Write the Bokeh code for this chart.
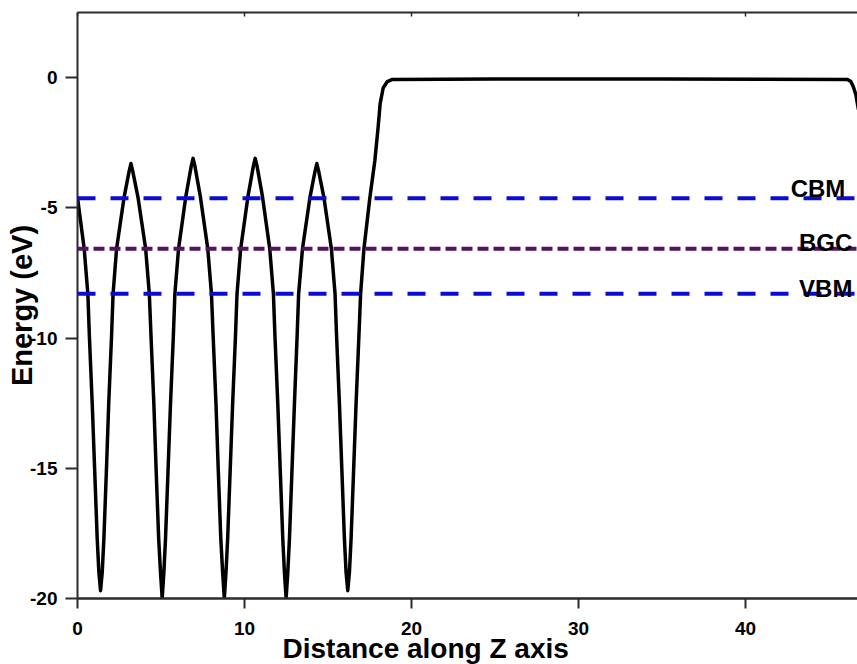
from bokeh.plotting import figure
from bokeh.models import Range1d, FixedTicker, LinearAxis, Span, Label, Title, CustomJSTickFormatter
from bokeh.embed import file_html
from bokeh.resources import INLINE

# ---- data ----
distance = [
    0.00, 0.40, 0.62, 0.71, 0.88, 1.03, 1.18, 1.28, 1.38,
    1.48, 1.58, 1.73, 1.87, 2.04, 2.13, 2.34, 2.78, 3.09, 3.20,
    3.31, 3.63, 4.08, 4.30, 4.40, 4.57, 4.71, 4.86, 4.97, 5.07,
    5.17, 5.27, 5.42, 5.57, 5.74, 5.83, 6.05, 6.49, 6.81, 6.92,
    7.03, 7.35, 7.80, 8.02, 8.12, 8.29, 8.43, 8.58, 8.69, 8.79,
    8.89, 8.99, 9.14, 9.29, 9.46, 9.55, 9.77, 10.21, 10.53, 10.64,
    10.75, 11.07, 11.51, 11.73, 11.82, 11.99, 12.14, 12.29, 12.39, 12.49,
    12.59, 12.69, 12.84, 12.99, 13.15, 13.24, 13.47, 13.91, 14.22, 14.33,
    14.44, 14.76, 15.20, 15.42, 15.51, 15.68, 15.83, 15.98, 16.08, 16.18,
    16.28, 16.38, 16.53, 16.68, 16.85, 16.95, 17.15, 17.50, 17.80, 18.00,
    18.12, 18.30, 18.55, 18.85, 25.0, 35.0, 46.1, 46.3, 46.45, 46.6, 46.75,
]
energy = [
    -4.60, -6.57, -8.30, -9.90, -12.5, -15.1, -17.7, -19.0, -19.7,
    -19.0, -17.7, -15.1, -12.5, -9.90, -8.30, -6.57, -4.63, -3.60, -3.30,
    -3.60, -4.63, -6.57, -8.30, -9.90, -12.5, -15.1, -17.7, -19.0, -20.0,
    -19.0, -17.7, -15.1, -12.5, -9.90, -8.30, -6.57, -4.55, -3.40, -3.10,
    -3.40, -4.55, -6.57, -8.30, -9.90, -12.5, -15.1, -17.7, -19.0, -20.0,
    -19.0, -17.7, -15.1, -12.5, -9.90, -8.30, -6.57, -4.55, -3.40, -3.10,
    -3.40, -4.55, -6.57, -8.30, -9.90, -12.5, -15.1, -17.7, -19.0, -20.0,
    -19.0, -17.7, -15.1, -12.5, -9.90, -8.30, -6.57, -4.63, -3.60, -3.30,
    -3.60, -4.63, -6.57, -8.30, -9.90, -12.5, -15.1, -17.7, -19.0, -19.7,
    -19.0, -17.7, -15.1, -12.5, -9.90, -8.30, -6.57, -4.63, -3.20, -1.90,
    -1.00, -0.40, -0.15, -0.07, -0.05, -0.05, -0.07, -0.15, -0.35, -0.65, -1.20,
]

level_names = ["CBM", "BGC", "VBM"]
level_values = [-4.63, -6.57, -8.30]

x_ticks = [0, 10, 20, 30, 40]
y_ticks = [-20, -15, -10, -5, 0]

x_title = "Distance along Z axis"
y_title = "Energy (eV)"

# ---- styling ----
FONT = "Liberation Sans"
AXIS_COLOR = "#2b2b2b"
level_colors = ["#0b0bd6", "#54125f", "#0b0bd6"]
level_dashes = ["18 15", "11 5", "18 15"]
label_x = [42.7, 43.2, 43.2]
label_dy = [0.37, 0.24, 0.20]

p = figure(
    width=857, height=664,
    output_backend="svg", toolbar_location=None,
    x_range=Range1d(0, 46.7), y_range=Range1d(-20, 2.5),
    min_border_left=77, min_border_top=12, min_border_bottom=66, min_border_right=0,
    background_fill_color="white", border_fill_color="white",
)
p.outline_line_color = None
p.grid.visible = False

# main curve
p.line(distance, energy, line_color="black", line_width=3.5, line_join="round", line_cap="round")

# level lines
for val, col, dash in zip(level_values, level_colors, level_dashes):
    p.add_layout(Span(location=val, dimension="width", line_color=col,
                      line_width=4, line_dash=dash))

# level labels
for name, val, lx, dy in zip(level_names, level_values, label_x, label_dy):
    p.add_layout(Label(x=lx, y=val + dy, text=name, text_font=FONT,
                       text_font_style="bold", text_font_size="24px",
                       text_color="black", text_baseline="alphabetic"))

# axes
xa = p.xaxis[0]
xa.ticker = FixedTicker(ticks=x_ticks)
xa.formatter = CustomJSTickFormatter(code="return tick.toFixed(0)")
xa.major_tick_out = 10
xa.major_tick_in = 0
xa.minor_tick_out = 0
xa.minor_tick_in = 0
xa.major_label_standoff = 13
xa.major_label_text_font = FONT
xa.major_label_text_font_style = "bold"
xa.major_label_text_font_size = "19px"
xa.major_label_text_color = "black"
xa.axis_line_width = 2.5
xa.axis_line_color = AXIS_COLOR
xa.major_tick_line_width = 2
xa.major_tick_line_color = AXIS_COLOR

ya = p.yaxis[0]
ya.ticker = FixedTicker(ticks=y_ticks)
ya.formatter = CustomJSTickFormatter(code="return tick.toFixed(0)")
ya.major_tick_out = 12
ya.major_tick_in = 0
ya.minor_tick_out = 0
ya.minor_tick_in = 0
ya.major_label_standoff = 8
ya.major_label_text_font = FONT
ya.major_label_text_font_style = "bold"
ya.major_label_text_font_size = "19px"
ya.major_label_text_color = "black"
ya.axis_line_width = 2
ya.axis_line_color = AXIS_COLOR
ya.major_tick_line_width = 2
ya.major_tick_line_color = AXIS_COLOR
ya.axis_label = y_title
ya.axis_label_text_font = FONT
ya.axis_label_text_font_style = "bold"
ya.axis_label_text_font_size = "29px"
ya.axis_label_text_color = "black"
ya.axis_label_standoff = -11

# top border with small inward ticks
top = LinearAxis(ticker=FixedTicker(ticks=x_ticks),
                 formatter=CustomJSTickFormatter(code="return ''"))
top.major_tick_in = 4
top.major_tick_out = 0
top.minor_tick_in = 0
top.minor_tick_out = 0
top.major_label_standoff = 0
top.major_label_text_font_size = "0px"
top.axis_line_width = 2
top.axis_line_color = AXIS_COLOR
top.major_tick_line_width = 1.5
top.major_tick_line_color = AXIS_COLOR
p.add_layout(top, "above")

# x-axis title, shifted left as in the reference
p.add_layout(Title(text=x_title, align="left", offset=205, standoff=-14,
                   text_font=FONT, text_font_style="bold", text_font_size="28px",
                   text_color="black"), "below")

open("out.html", "w").write(file_html(p, INLINE))
